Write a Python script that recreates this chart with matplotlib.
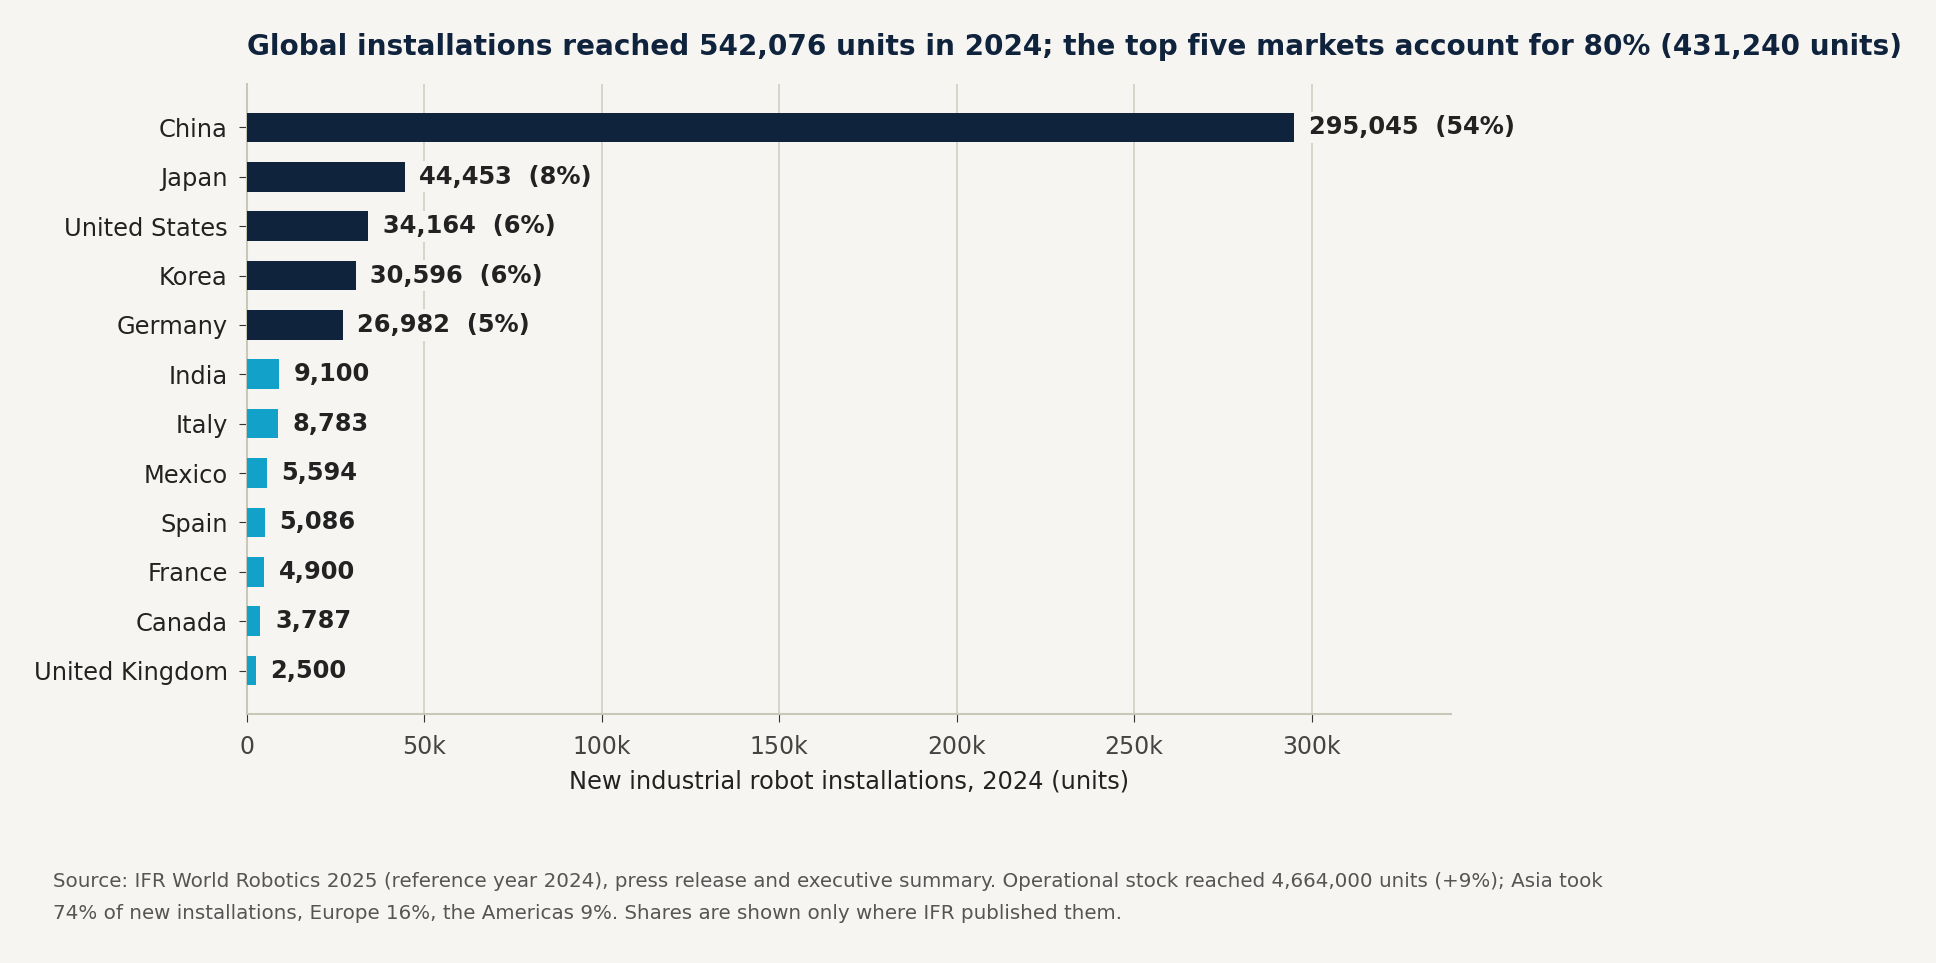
import matplotlib.pyplot as plt
from matplotlib.ticker import FuncFormatter

# Datos de instalaciones 2024 (IFR)
countries = ['China', 'Japan', 'United States', 'Korea', 'Germany', 'India',
             'Italy', 'Mexico', 'Spain', 'France', 'Canada', 'United Kingdom']
units = [295045, 44453, 34164, 30596, 26982, 9100, 8783, 5594, 5086, 4900, 3787, 2500]
shares = [54, 8, 6, 6, 5, None, None, None, None, None, None, None]
top_n = 5

bg = '#f6f5f1'
navy = '#10233d'
cyan = '#12a2c9'
grid_col = '#d3d2c6'

fig = plt.figure(figsize=(19.36, 9.63), dpi=100, facecolor=bg)
ax = fig.add_axes([0.1276, 0.2586, 0.6219, 0.6542])
ax.set_facecolor(bg)

colors = [navy if i < top_n else cyan for i in range(len(countries))]
y = list(range(len(countries)))
ax.barh(y, units, height=0.6, color=colors, zorder=3)
ax.invert_yaxis()
ax.set_yticks(y)
ax.set_yticklabels(countries, fontsize=17.4, color='#222222')

for yi, v, s in zip(y, units, shares):
    txt = f'{v:,}' if s is None else f'{v:,}  ({s}%)'
    ax.annotate(txt, (v, yi), xytext=(10.5, 0), textcoords='offset points',
                va='center', ha='left', fontsize=17.4, fontweight='bold', color='#222222',
                bbox=dict(boxstyle='square,pad=0.15', fc=bg, ec='none'), zorder=4)

ax.set_xlim(0, max(units) * 1.15)
ax.xaxis.set_major_formatter(FuncFormatter(lambda x, p: '0' if x == 0 else f'{x/1000:.0f}k'))
ax.tick_params(axis='x', labelsize=17, labelcolor='#444444', length=6, color='#333333', pad=9)
ax.tick_params(axis='y', length=6, color='#333333', pad=8)
ax.grid(axis='x', color=grid_col, linewidth=1.3, zorder=0)
ax.set_axisbelow(True)

for side in ['top', 'right']:
    ax.spines[side].set_visible(False)
for side in ['left', 'bottom']:
    ax.spines[side].set_color('#c9c8b8')
    ax.spines[side].set_linewidth(1.5)

ax.set_xlabel('New industrial robot installations, 2024 (units)', fontsize=17.4,
              color='#222222', labelpad=8)

fig.text(0.1276, 0.951, 'Global installations reached 542,076 units in 2024; '
         'the top five markets account for 80% (431,240 units)',
         fontsize=20.1, fontweight='bold', color=navy, ha='left', va='center')

fig.text(0.0274, 0.085, 'Source: IFR World Robotics 2025 (reference year 2024), press release and '
         'executive summary. Operational stock reached 4,664,000 units (+9%); Asia took',
         fontsize=14.3, color='#555555', ha='left', va='center')
fig.text(0.0274, 0.051, '74% of new installations, Europe 16%, the Americas 9%. '
         'Shares are shown only where IFR published them.',
         fontsize=14.3, color='#555555', ha='left', va='center')

fig.savefig('out.png', dpi=100, facecolor=bg)
